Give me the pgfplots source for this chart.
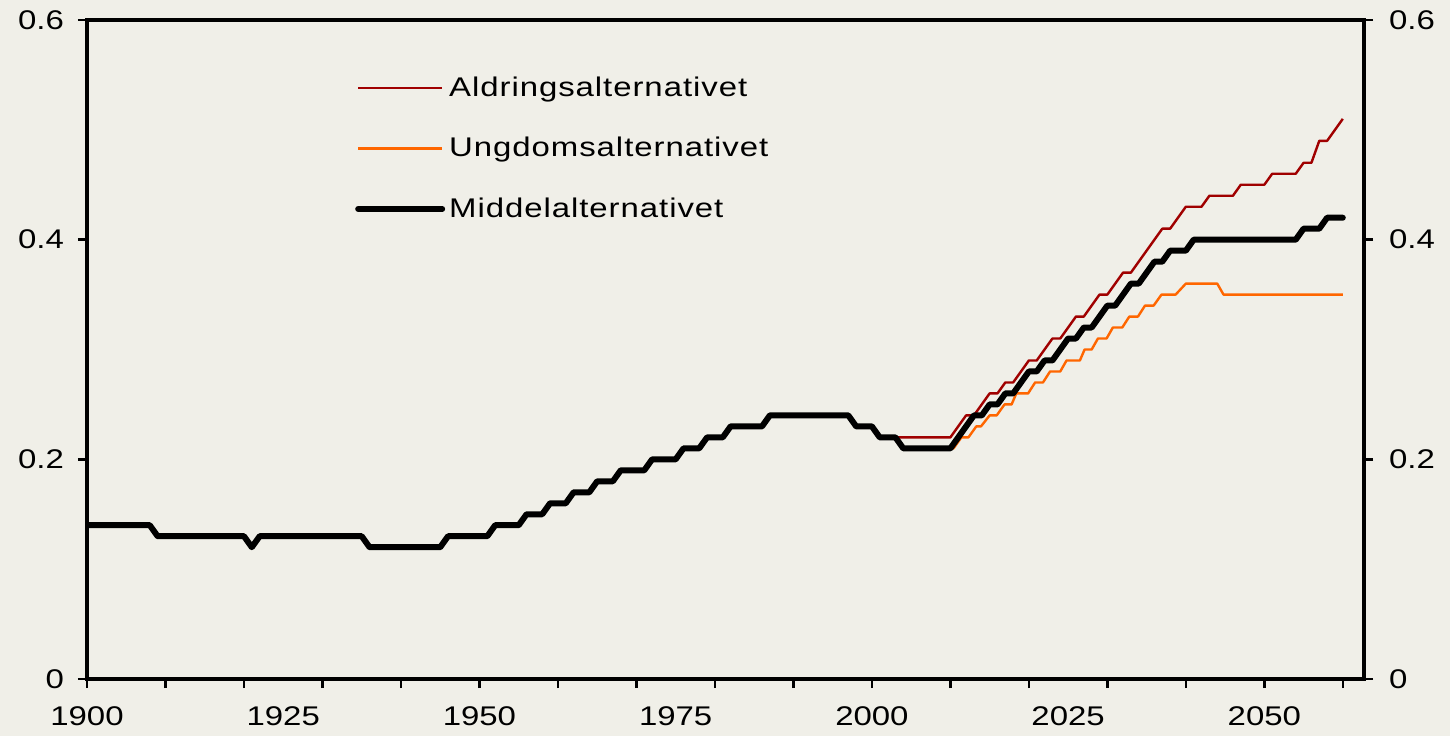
\documentclass[border=0pt]{standalone}
\usepackage{fontspec}
\setmainfont{Liberation Sans}[FakeStretch=1.22]
\newfontfamily\legfont{Liberation Sans}[FakeStretch=1.22, LetterSpace=3.5]
\usepackage{pgfplots}
\pgfplotsset{compat=1.18}
\definecolor{bg}{RGB}{240,239,232}
\definecolor{aldr}{RGB}{160,0,0}
\definecolor{ungd}{RGB}{255,102,0}
\newcommand{\lblfont}{\fontsize{13.5}{16}\selectfont}
\begin{document}
\begin{tikzpicture}
\fill[bg] (-43.5pt,-28.5pt) rectangle (681.5pt,339.5pt);
\begin{axis}[
  at={(0pt,0pt)}, anchor=south west,
  scale only axis, width=638.5pt, height=329.5pt,
  xmin=1900, xmax=2062.7, ymin=0, ymax=0.6,
  axis line style={line width=1.6pt},
  tick style={line width=1.2pt, black},
  tick align=outside, major tick length=4.5pt,
  xtick={1900,1910,...,2060}, xticklabels={},
  xtick pos=left, ytick pos=left,
  extra x ticks={1900,1925,1950,1975,2000,2025,2050},
  extra x tick labels={1900,1925,1950,1975,2000,2025,2050},
  extra x tick style={tick style={draw=none}},
  ytick={0,0.2,0.4,0.6},
  yticklabels={0,0.2,0.4,0.6},
  /pgf/number format/assume math mode=true,
  tick label style={font=\lblfont},
  xticklabel style={yshift=-6pt},
  yticklabel style={xshift=-3.5pt},
  legend style={at={(0.205,0.927)}, anchor=north west, draw=none, fill=none,
    font=\legfont\lblfont, row sep=15pt},
  legend cell align=left,
  legend image code/.code={\draw[#1] (0pt,0pt) -- (42pt,0pt);},
]
\addplot[aldr, line width=1.2pt, line join=round] coordinates {
(2003,0.22)(2010,0.22)(2011,0.23)(2012,0.24)(2013,0.24)(2014,0.25)(2015,0.26)
(2016,0.26)(2017,0.27)(2018,0.27)(2019,0.28)(2020,0.29)(2021,0.29)(2022,0.30)
(2023,0.31)(2024,0.31)(2025,0.32)(2026,0.33)(2027,0.33)(2028,0.34)(2029,0.35)
(2030,0.35)(2031,0.36)(2032,0.37)(2033,0.37)(2034,0.38)(2035,0.39)(2036,0.40)
(2037,0.41)(2038,0.41)(2039,0.42)(2040,0.43)(2042,0.43)(2043,0.44)(2046,0.44)
(2047,0.45)(2050,0.45)(2051,0.46)(2054,0.46)(2055,0.47)(2056,0.47)(2057,0.49)
(2058,0.49)(2059,0.50)(2060,0.51)};
\addlegendentry{Aldringsalternativet}
\addplot[ungd, line width=1.2pt, line join=round] coordinates {
(2003,0.22)(2004,0.21)(2010.4,0.21)(2011.4,0.22)(2012.3,0.22)(2013.3,0.23)
(2013.9,0.23)(2015,0.24)(2015.9,0.24)(2016.9,0.25)(2017.8,0.25)(2018.4,0.26)
(2019.9,0.26)(2020.8,0.27)(2021.8,0.27)(2022.7,0.28)(2024,0.28)(2024.8,0.29)
(2026.5,0.29)(2027.1,0.30)(2028,0.30)(2028.8,0.31)(2029.9,0.31)(2030.7,0.32)
(2031.9,0.32)(2032.8,0.33)(2033.9,0.33)(2034.8,0.34)(2035.9,0.34)(2036.9,0.35)
(2038.7,0.35)(2040,0.36)(2044,0.36)(2044.8,0.35)(2060,0.35)};
\addlegendentry{Ungdomsalternativet}
\addplot[black, line width=3pt, line join=round, line cap=round] coordinates {
(1900,0.14)(1908,0.14)(1909,0.13)(1920,0.13)(1921,0.12)(1922,0.13)(1935,0.13)
(1936,0.12)(1945,0.12)(1946,0.13)(1951,0.13)(1952,0.14)(1955,0.14)(1956,0.15)
(1958,0.15)(1959,0.16)(1961,0.16)(1962,0.17)(1964,0.17)(1965,0.18)(1967,0.18)
(1968,0.19)(1971,0.19)(1972,0.20)(1975,0.20)(1976,0.21)(1978,0.21)(1979,0.22)
(1981,0.22)(1982,0.23)(1986,0.23)(1987,0.24)(1997,0.24)(1998,0.23)(2000,0.23)
(2001,0.22)(2003,0.22)(2004,0.21)(2010,0.21)(2011,0.22)(2012,0.23)(2013,0.24)
(2014,0.24)(2015,0.25)(2016,0.25)(2017,0.26)(2018,0.26)(2019,0.27)(2020,0.28)
(2021,0.28)(2022,0.29)(2023,0.29)(2024,0.30)(2025,0.31)(2026,0.31)(2027,0.32)
(2028,0.32)(2029,0.33)(2030,0.34)(2031,0.34)(2032,0.35)(2033,0.36)(2034,0.36)
(2035,0.37)(2036,0.38)(2037,0.38)(2038,0.39)(2040,0.39)(2041,0.40)(2054,0.40)
(2055,0.41)(2057,0.41)(2058,0.42)(2060,0.42)};
\addlegendentry{Middelalternativet}
\end{axis}
\begin{axis}[
  at={(0pt,0pt)}, anchor=south west,
  scale only axis, width=638.5pt, height=329.5pt,
  xmin=1900, xmax=2062.7, ymin=0, ymax=0.6,
  axis x line=none, axis y line*=right,
  axis line style={line width=1.6pt},
  tick style={line width=1.2pt, black},
  tick align=outside, major tick length=4.5pt,
  ytick={0,0.2,0.4,0.6},
  yticklabels={0,0.2,0.4,0.6},
  /pgf/number format/assume math mode=true,
  tick label style={font=\lblfont},
  yticklabel style={xshift=4.5pt},
]
\end{axis}
\end{tikzpicture}
\end{document}
